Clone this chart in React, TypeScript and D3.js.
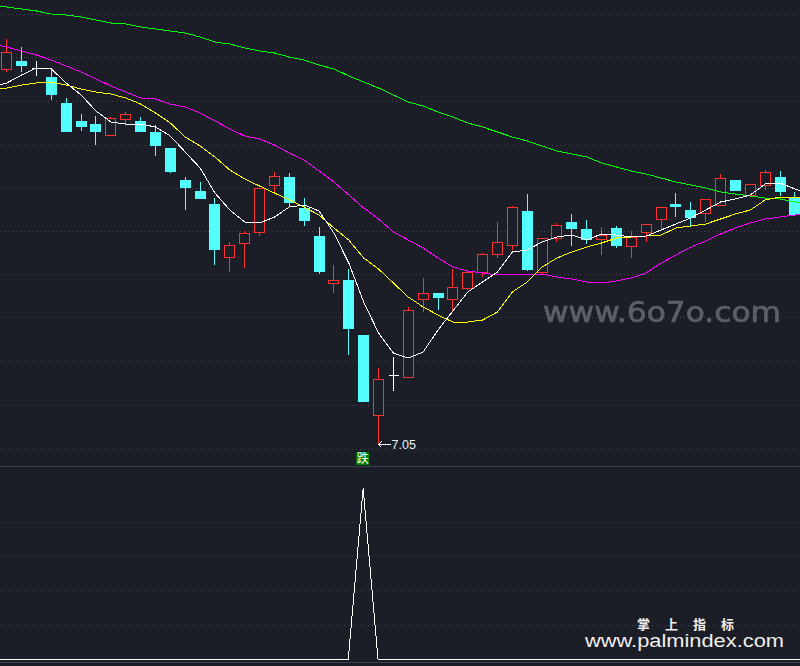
import * as d3 from 'd3';

// ---------------------------------------------------------------------------
// Colours (terminal dark theme)
// ---------------------------------------------------------------------------
const BG = '#1b1e27';
const UP = '#ff3232';
const DOWN = '#54ffff';
const FLAT = '#ffffff';
const GRID = '#45484f';
const PANEL_LINE = '#3a404c';

const WIDTH = 800;
const HEIGHT = 666;

// ---------------------------------------------------------------------------
// Candles
// ---------------------------------------------------------------------------
const opens = [
  10.8, 10.88, 10.81, 10.72, 10.46, 10.28, 10.25, 10.14, 10.3, 10.28, 10.17, 10.01, 9.69, 9.58,
  9.45, 8.92, 9.06, 9.17, 9.64, 9.72, 9.41, 9.13, 8.66, 8.69, 8.14, 7.34, 7.74, 7.72, 8.5, 8.56,
  8.5, 8.61, 8.77, 8.95, 9.04, 9.38, 8.77, 9.11, 9.27, 9.2, 9.1, 9.21, 9.03, 9.17, 9.3, 9.45,
  9.39, 9.36, 9.44, 9.69, 9.54, 9.64, 9.72, 9.51,
];
const closes = [
  10.97, 10.84, 10.81, 10.55, 10.18, 10.23, 10.18, 10.31, 10.35, 10.18, 10.04, 9.78, 9.62, 9.51,
  9.0, 9.04, 9.16, 9.61, 9.73, 9.47, 9.29, 8.78, 8.69, 8.21, 7.48, 7.7, 7.74, 8.39, 8.56, 8.52,
  8.62, 8.77, 8.95, 9.07, 9.42, 8.8, 9.11, 9.24, 9.21, 9.1, 9.14, 9.04, 9.12, 9.25, 9.42, 9.43,
  9.32, 9.5, 9.71, 9.59, 9.65, 9.77, 9.58, 9.35,
];
const highs = [
  11.1, 11.02, 10.88, 10.8, 10.51, 10.35, 10.33, 10.32, 10.37, 10.32, 10.24, 10.01, 9.72, 9.67,
  9.51, 9.07, 9.18, 9.61, 9.77, 9.76, 9.51, 9.22, 8.84, 8.8, 8.14, 7.81, 7.92, 8.42, 8.71, 8.56,
  8.8, 8.79, 8.96, 9.27, 9.43, 9.55, 9.11, 9.26, 9.35, 9.29, 9.22, 9.23, 9.18, 9.25, 9.42, 9.56,
  9.47, 9.5, 9.75, 9.69, 9.65, 9.79, 9.78, 9.57,
];
const lows = [
  10.77, 10.77, 10.73, 10.49, 10.18, 10.18, 10.04, 10.13, 10.23, 10.17, 9.93, 9.76, 9.39, 9.51,
  8.84, 8.77, 8.81, 9.13, 9.55, 9.43, 9.23, 8.75, 8.56, 7.94, 7.48, 7.05, 7.58, 7.72, 8.37, 8.39,
  8.37, 8.59, 8.72, 8.91, 8.99, 8.78, 8.74, 9.07, 9.03, 9.05, 8.94, 9.01, 8.91, 9.07, 9.18, 9.32,
  9.23, 9.27, 9.44, 9.58, 9.54, 9.59, 9.53, 9.35,
];

// ---------------------------------------------------------------------------
// Moving averages. Index 0 is one bar left of the first candle, the last value
// one bar right of the last candle, so the lines run off both edges.
// ---------------------------------------------------------------------------
const maWhite = [
  10.62, 10.66, 10.74, 10.81, 10.8, 10.66, 10.54, 10.38, 10.27, 10.25, 10.25, 10.22, 10.13, 9.97,
  9.81, 9.56, 9.39, 9.27, 9.26, 9.32, 9.42, 9.44, 9.38, 9.16, 8.86, 8.47, 8.16, 7.96, 7.91, 7.97,
  8.19, 8.38, 8.57, 8.67, 8.77, 8.97, 8.99, 9.07, 9.12, 9.14, 9.09, 9.15, 9.14, 9.12, 9.13, 9.19,
  9.25, 9.31, 9.39, 9.47, 9.5, 9.54, 9.65, 9.66, 9.6, 9.55,
];
const maYellow = [
  10.59, 10.61, 10.64, 10.66, 10.67, 10.64, 10.6, 10.57, 10.55, 10.51, 10.45, 10.36, 10.26, 10.12,
  10.03, 9.92, 9.79, 9.7, 9.63, 9.56, 9.49, 9.42, 9.34, 9.21, 9.09, 8.91, 8.8, 8.66, 8.52, 8.42,
  8.34, 8.27, 8.27, 8.29, 8.37, 8.57, 8.67, 8.82, 8.91, 8.97, 9.02, 9.06, 9.11, 9.12, 9.13, 9.14,
  9.21, 9.23, 9.25, 9.3, 9.35, 9.39, 9.49, 9.52, 9.52, 9.52,
];
const maMagenta = [
  11.05, 11.02, 10.98, 10.94, 10.89, 10.83, 10.77, 10.7, 10.63, 10.57, 10.51, 10.5, 10.45, 10.42,
  10.36, 10.28, 10.2, 10.13, 10.1, 10.04, 9.96, 9.89, 9.78, 9.67, 9.54, 9.41, 9.3, 9.17, 9.09,
  9.01, 8.91, 8.82, 8.78, 8.76, 8.74, 8.75, 8.75, 8.75, 8.72, 8.7, 8.67, 8.66, 8.68, 8.71, 8.76,
  8.86, 8.94, 9.02, 9.08, 9.15, 9.21, 9.26, 9.3, 9.32, 9.34, 9.35,
];
const maGreen = [
  11.43, 11.42, 11.4, 11.38, 11.35, 11.34, 11.32, 11.29, 11.26, 11.25, 11.22, 11.2, 11.18, 11.16,
  11.12, 11.07, 11.05, 11.01, 10.98, 10.96, 10.92, 10.89, 10.84, 10.8, 10.73, 10.67, 10.61, 10.54,
  10.47, 10.43, 10.37, 10.32, 10.26, 10.22, 10.17, 10.12, 10.08, 10.03, 9.98, 9.95, 9.92, 9.86,
  9.82, 9.78, 9.75, 9.71, 9.67, 9.64, 9.61, 9.57, 9.55, 9.53, 9.51, 9.5, 9.47, 9.45,
];

// Lower panel: the signal spikes on one bar only
const signalBar = 24;
const signalPeak = 100;
const lowPriceBar = 25;
const lowPriceLabel = '7.05';

const priceGrid = [11.35, 10.91, 10.47, 10.04, 9.61, 9.18, 8.74, 8.31, 7.87, 7.44, 7.0];
const signalGrid = [20, 40, 60, 80];

// ---------------------------------------------------------------------------
// Scales
// ---------------------------------------------------------------------------
const x = d3.scaleLinear().domain([0, 53]).range([6.25, 794.4]);
const y = d3.scaleLinear().domain([7.05, 11.35]).range([444, 14]);
const ySignal = d3.scaleLinear().domain([0, 100]).range([659.3, 488.3]);

const snap = (v: number) => Math.round(v) + 0.5;
const snapRow = (v: number) => Math.floor(v) + 0.5;

function maPath(values: number[]) {
  return (
    d3
      .line<number>()
      .x((_, i) => x(i - 1) + 0.5)
      .y((d) => y(d))(values) ?? ''
  );
}

function Candle({ i }: { i: number }) {
  const cx = snap(x(i));
  const open = opens[i];
  const close = closes[i];
  const top = Math.round(y(Math.max(open, close))) + 0.5;
  const bottom = Math.round(y(Math.min(open, close))) + 0.5;
  const hi = y(highs[i]);
  const lo = y(lows[i]);

  if (open === close) {
    return (
      <g stroke={FLAT} shapeRendering="crispEdges">
        <line x1={cx} x2={cx} y1={hi} y2={lo} />
        <line x1={cx - 5} x2={cx + 5} y1={top} y2={top} />
      </g>
    );
  }

  if (close < open) {
    return (
      <g shapeRendering="crispEdges">
        <line x1={cx} x2={cx} y1={hi} y2={lo} stroke={DOWN} />
        <rect x={cx - 5.5} y={top - 0.5} width={11} height={bottom - top + 1} fill={DOWN} />
      </g>
    );
  }

  return (
    <g stroke={UP} shapeRendering="crispEdges">
      <line x1={cx} x2={cx} y1={hi} y2={top} />
      <line x1={cx} x2={cx} y1={bottom} y2={lo} />
      <rect x={cx - 5} y={top} width={10} height={bottom - top} fill={BG} />
    </g>
  );
}

export default function App() {
  const signalLine =
    d3
      .line<number>()
      .x((d) => x(d))
      .y((d) => ySignal(d === signalBar ? signalPeak : 0))([-1, signalBar - 1, signalBar, signalBar + 1, 54]) ?? '';

  const lowX = snap(x(lowPriceBar));
  const lowY = Math.round(y(lows[lowPriceBar]));

  return (
    <svg
      width={WIDTH}
      height={HEIGHT}
      style={{ position: 'absolute', left: 0, top: 0, display: 'block', background: BG }}
    >
      <defs>
        <filter id="soft">
          <feGaussianBlur stdDeviation="0.5" />
        </filter>
      </defs>

      {/* Dotted grids */}
      <g stroke={GRID} strokeDasharray="1 3" shapeRendering="crispEdges">
        {priceGrid.map((p) => (
          <line key={p} x1={0} x2={WIDTH} y1={snapRow(y(p))} y2={snapRow(y(p))} />
        ))}
        {signalGrid.map((v) => (
          <line key={v} x1={0} x2={WIDTH} y1={snapRow(ySignal(v))} y2={snapRow(ySignal(v))} />
        ))}
      </g>

      {/* Panel separators */}
      <g stroke={PANEL_LINE} shapeRendering="crispEdges">
        <line x1={0} x2={WIDTH} y1={466.5} y2={466.5} />
        <line x1={0} x2={WIDTH} y1={662.5} y2={662.5} />
      </g>

      {/* Watermark */}
      <text
        x={543}
        y={322}
        fill="#5c5f65"
        stroke="#5c5f65"
        strokeWidth={0.7}
        fontFamily="'DejaVu Sans', sans-serif"
        fontSize={29}
        textLength={238}
        lengthAdjust="spacingAndGlyphs"
        filter="url(#soft)"
      >
        www.6o7o.com
      </text>

      {/* Candles */}
      {opens.map((_, i) => (
        <Candle key={i} i={i} />
      ))}

      {/* Moving averages */}
      <g fill="none" strokeWidth={1} shapeRendering="crispEdges">
        <path d={maPath(maGreen)} stroke="#00ff00" />
        <path d={maPath(maMagenta)} stroke="#ff00ff" />
        <path d={maPath(maYellow)} stroke="#ffff00" />
        <path d={maPath(maWhite)} stroke="#ffffff" />
      </g>

      {/* Lowest price marker */}
      <g stroke="#ffffff" fill="none" shapeRendering="crispEdges">
        <line x1={lowX} x2={lowX + 12} y1={lowY + 0.5} y2={lowY + 0.5} />
        <polyline points={`${lowX + 3},${lowY - 2.5} ${lowX},${lowY + 0.5} ${lowX + 3},${lowY + 3.5}`} />
      </g>
      <text
        x={lowX + 13}
        y={lowY + 5}
        fill="#e8eef5"
        fontFamily="'Liberation Sans', sans-serif"
        fontSize={12.5}
      >
        {lowPriceLabel}
      </text>

      {/* Signal tag */}
      <rect x={x(signalBar) - 7} y={452} width={13} height={13} fill="#008000" />
      <text
        x={x(signalBar) - 0.5}
        y={463}
        textAnchor="middle"
        fill="#ffffff"
        fontFamily="'Noto Sans CJK SC', sans-serif"
        fontSize={12}
      >
        跌
      </text>

      {/* Lower panel line */}
      <path d={signalLine} fill="none" stroke="#ffffff" shapeRendering="crispEdges" />

      {/* Site credit */}
      <text
        x={637}
        y={628.5}
        fill="#f0f0f0"
        fontFamily="'Noto Sans CJK SC', sans-serif"
        fontWeight={700}
        fontSize={13}
        letterSpacing={15}
      >
        掌上指标
      </text>
      <text
        x={585}
        y={646.5}
        fill="#f0f0f0"
        fontFamily="'Liberation Sans', sans-serif"
        fontSize={18}
        textLength={199}
        lengthAdjust="spacingAndGlyphs"
      >
        www.palmindex.com
      </text>
    </svg>
  );
}
